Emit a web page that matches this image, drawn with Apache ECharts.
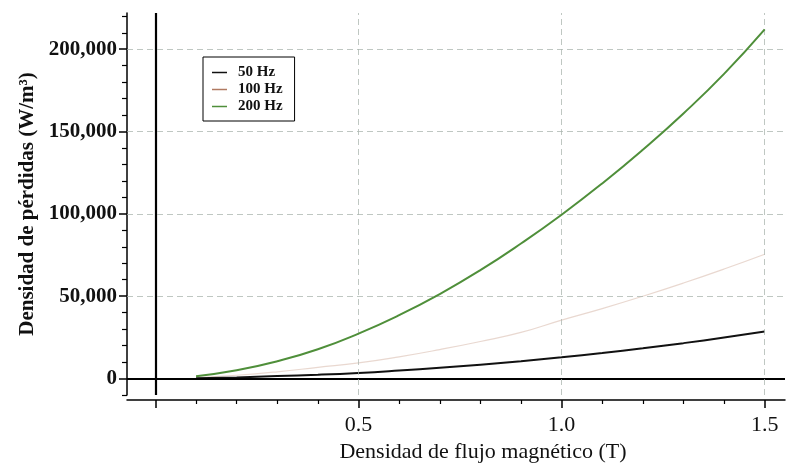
<!DOCTYPE html>
<html>
<head>
<meta charset="utf-8">
<script src="https://cdn.jsdelivr.net/npm/echarts@6/dist/echarts.min.js"></script>
<style>html,body{margin:0;padding:0;background:#fff}#c{width:788px;height:470px}</style>
</head>
<body>
<div id="c"></div>
<script>
// Flux density (T)
const fluxB = [0.1, 0.2, 0.3, 0.4, 0.5, 0.6, 0.7, 0.8, 0.9, 1.0, 1.1, 1.2, 1.3, 1.4, 1.5];
// Loss density (W/m^3)
const loss50 = [200, 700, 1500, 2300, 3400, 4850, 6500, 8400, 10500, 12900, 15500, 18400, 21500, 24900, 28500];
const loss100 = [600, 2000, 4100, 6800, 9500, 13200, 17600, 22500, 28000, 35500, 42500, 50000, 58000, 66500, 75500];
const loss200 = [1400, 5000, 10500, 17800, 27300, 38500, 51300, 65800, 82000, 99500, 118500, 139000, 161000, 185000, 212000];
const seriesNames = ['50 Hz', '100 Hz', '200 Hz'];
const xMajorTicks = [0, 0.5, 1.0, 1.5];
const xLabelTicks = [0.5, 1.0, 1.5];
const xMinorTicks = [0.1, 0.2, 0.3, 0.4, 0.6, 0.7, 0.8, 0.9, 1.1, 1.2, 1.3, 1.4];
const yMajorTicks = [0, 50000, 100000, 150000, 200000];
const yMinorTicks = [-10000, 10000, 20000, 30000, 40000, 60000, 70000, 80000, 90000, 110000, 120000, 130000, 140000, 160000, 170000, 180000, 190000, 210000, 220000];
const xTitle = 'Densidad de flujo magnético (T)';
const yTitle = 'Densidad de pérdidas (W/m³)';

const pair = (ys) => fluxB.map((x, i) => [x, ys[i]]);
const serif = 'Liberation Serif';
const fmtY = v => Math.round(v).toLocaleString('en-US');

const chart = echarts.init(document.getElementById('c'), null, {renderer: 'canvas'});
const xBase = {type: 'value', min: -0.07, max: 1.55, position: 'bottom', offset: 5, splitLine: {show: false}};
const yBase = {type: 'value', min: -10000, max: 222000, position: 'left', splitLine: {show: false}};
chart.setOption({
  animation: false,
  backgroundColor: '#fff',
  grid: {left: 127, right: 3, top: 13, bottom: 75, containLabel: false},
  legend: {
    data: seriesNames, orient: 'vertical', left: 203, top: 57,
    icon: 'rect', itemWidth: 15, itemHeight: 1.5, itemGap: 2,
    borderColor: '#000', borderWidth: 1, padding: [8, 12, 7, 9],
    textStyle: {fontFamily: serif, fontWeight: 'bold', fontSize: 15, lineHeight: 14, color: '#111', padding: [0, 0, 0, 6]}
  },
  xAxis: [
    Object.assign({}, xBase, {
      axisLine: {show: true, onZero: false, lineStyle: {color: '#000', width: 1.5}},
      axisTick: {show: true, customValues: xMajorTicks, length: 8, lineStyle: {color: '#000', width: 1.5}},
      axisLabel: {customValues: xLabelTicks, formatter: v => v.toFixed(1), fontFamily: serif, fontSize: 22, color: '#111', margin: 14},
      name: xTitle, nameLocation: 'middle', nameGap: 41,
      nameTextStyle: {fontFamily: serif, fontSize: 22, color: '#111', padding: [0, 0, 0, 54]}
    }),
    Object.assign({}, xBase, {
      axisLine: {show: false, onZero: false},
      axisTick: {show: true, customValues: xMinorTicks, length: 4, lineStyle: {color: '#000', width: 1.2}},
      axisLabel: {show: false}
    })
  ],
  yAxis: [
    Object.assign({}, yBase, {
      axisLine: {show: true, onZero: false, lineStyle: {color: '#000', width: 1.5}},
      axisTick: {show: true, customValues: yMajorTicks, length: 8, lineStyle: {color: '#000', width: 1.5}},
      axisLabel: {customValues: yMajorTicks, formatter: fmtY, fontFamily: serif, fontWeight: 'bold', fontSize: 21, color: '#111', margin: 10},
      name: yTitle, nameLocation: 'middle', nameRotate: 90, nameGap: 88,
      nameTextStyle: {fontFamily: serif, fontWeight: 'bold', fontSize: 21, color: '#111'}
    }),
    Object.assign({}, yBase, {
      axisLine: {show: false, onZero: false},
      axisTick: {show: true, customValues: yMinorTicks, length: 5, lineStyle: {color: '#000', width: 1.2}},
      axisLabel: {show: false}
    })
  ],
  series: [
    {
      name: seriesNames[0], type: 'line', data: pair(loss50), symbol: 'none', smooth: true, z: 4,
      lineStyle: {color: '#111', width: 2}, itemStyle: {color: '#111'},
      markLine: {
        silent: true, symbol: ['none', 'none'], label: {show: false},
        lineStyle: {color: '#000', width: 2.2, type: 'solid'},
        data: [{xAxis: 0}, {yAxis: 0}]
      }
    },
    {
      name: seriesNames[1], type: 'line', data: pair(loss100), symbol: 'none', smooth: true, z: 3,
      lineStyle: {color: '#d4b2a2', width: 1.2, opacity: 0.5}, itemStyle: {color: '#b07a62'},
      markLine: {
        silent: true, symbol: ['none', 'none'], label: {show: false},
        lineStyle: {color: '#aab4ae', width: 1, type: [6, 4], opacity: 0.75},
        data: [{yAxis: 50000}, {yAxis: 100000}, {yAxis: 150000}, {yAxis: 200000}, {xAxis: 0.5}, {xAxis: 1.0}, {xAxis: 1.5}]
      }
    },
    {
      name: seriesNames[2], type: 'line', data: pair(loss200), symbol: 'none', smooth: true, z: 5,
      lineStyle: {color: '#4f8f3a', width: 2}, itemStyle: {color: '#4f8f3a'}
    }
  ]
});
</script>
</body>
</html>
